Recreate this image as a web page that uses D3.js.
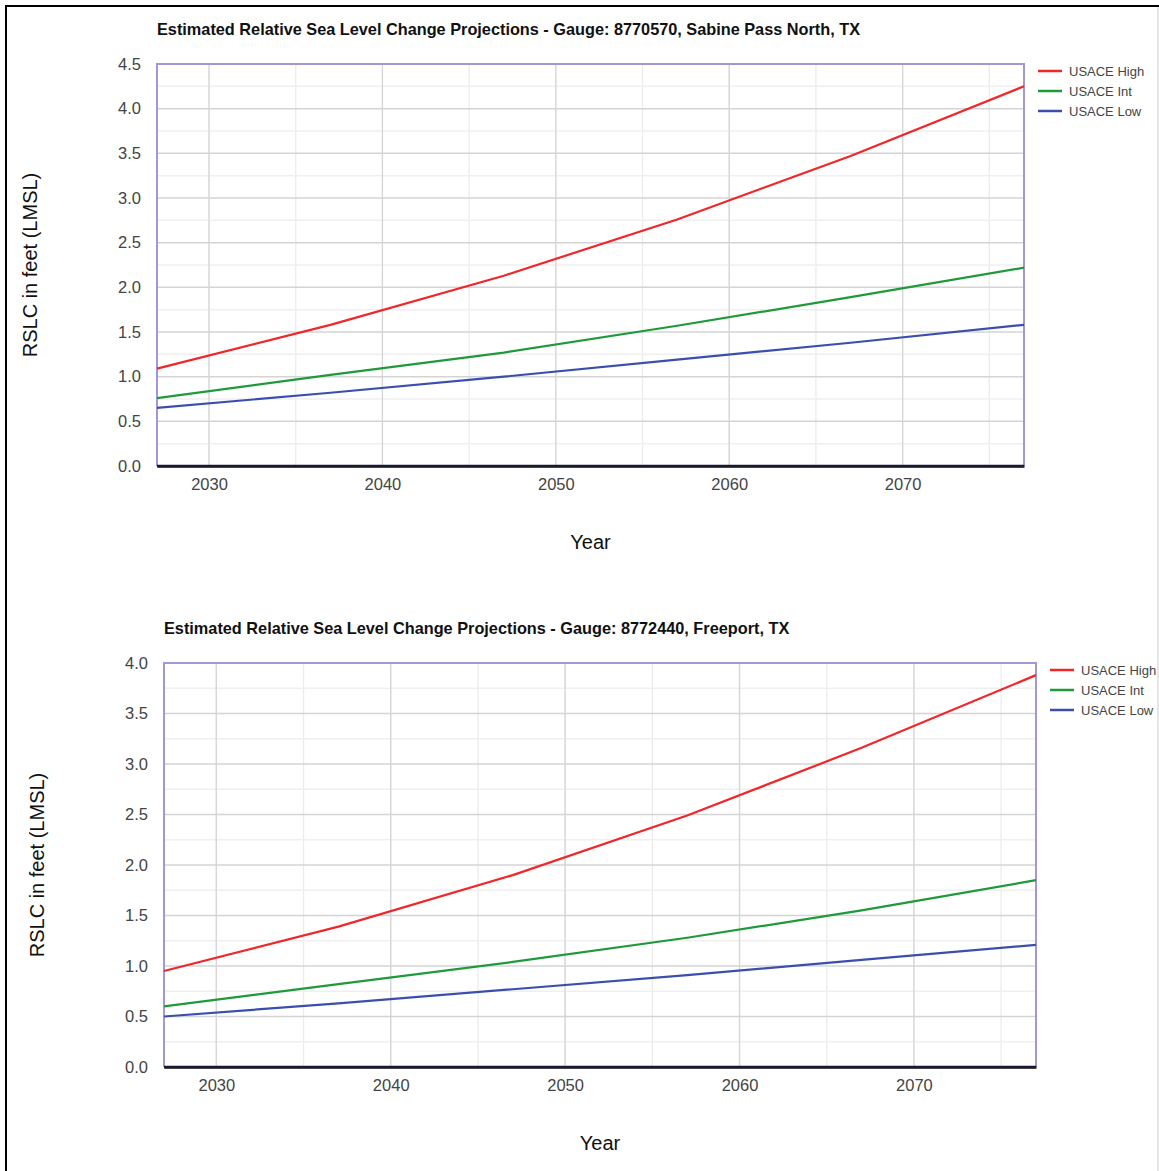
<!DOCTYPE html>
<meta charset="utf-8">
<title>RSLC projections</title>
<style>
body { margin: 0; background: #fff; font-family: Arial, "Liberation Sans", Helvetica, sans-serif; }
svg { display: block; }
.tick text { fill: #444; font-size: 16.5px; }
.title { font-weight: bold; font-size: 16.3px; fill: #111; }
.axis-title { font-size: 20px; fill: #111; }
.legend text { font-size: 13px; fill: #444; }
</style>
<body>
<script src="https://cdn.jsdelivr.net/npm/d3@7"></script>
<script>

// data
var years = [2027, 2037, 2047, 2057, 2067, 2077];
var seriesNames = ['USACE High', 'USACE Int', 'USACE Low'];
var seriesColors = ['#f0262a', '#1f9a3a', '#3b4eb0'];

var sabineHigh = [1.09, 1.58, 2.13, 2.76, 3.47, 4.25];
var sabineInt  = [0.76, 1.02, 1.27, 1.57, 1.89, 2.22];
var sabineLow  = [0.65, 0.82, 1.00, 1.19, 1.38, 1.58];

var freeportHigh = [0.95, 1.39, 1.90, 2.49, 3.16, 3.88];
var freeportInt  = [0.60, 0.82, 1.04, 1.28, 1.55, 1.85];
var freeportLow  = [0.50, 0.63, 0.77, 0.91, 1.06, 1.21];

var xTicks = [2030, 2040, 2050, 2060, 2070];
var yTicksSabine = [0, 0.5, 1, 1.5, 2, 2.5, 3, 3.5, 4, 4.5];
var yTicksFreeport = [0, 0.5, 1, 1.5, 2, 2.5, 3, 3.5, 4];

var W = 1159, H = 1171;
var svg = d3.select('body').append('svg').attr('width', W).attr('height', H);

// outer frame
svg.append('line').attr('x1', 6).attr('x2', 6).attr('y1', 5).attr('y2', H)
  .attr('stroke', '#000').attr('stroke-width', 2);
svg.append('line').attr('x1', 5).attr('x2', W).attr('y1', 6).attr('y2', 6)
  .attr('stroke', '#000').attr('stroke-width', 2);
svg.append('line').attr('x1', 1158).attr('x2', 1158).attr('y1', 7).attr('y2', H)
  .attr('stroke', '#ccc').attr('stroke-width', 1);

function drawChart(o){
  var g = svg.append('g');
  var x = d3.scaleLinear().domain([2027, 2077]).range([o.left, o.right]);
  var y = d3.scaleLinear().domain([0, o.ymax]).range([o.bottom, o.top]);

  // minor grid
  g.selectAll('line.vminor').data(d3.range(2030, 2077, 5)).join('line')
    .attr('x1', x).attr('x2', x).attr('y1', o.top).attr('y2', o.bottom)
    .attr('stroke', '#ececec').attr('stroke-width', 1.3);
  g.selectAll('line.hminor').data(d3.range(0.25, o.ymax, 0.5)).join('line')
    .attr('x1', o.left).attr('x2', o.right).attr('y1', y).attr('y2', y)
    .attr('stroke', '#efefef').attr('stroke-width', 1.5);
  // major grid
  g.selectAll('line.vmajor').data(xTicks).join('line')
    .attr('x1', x).attr('x2', x).attr('y1', o.top).attr('y2', o.bottom)
    .attr('stroke', '#d6d6d6').attr('stroke-width', 1.3);
  g.selectAll('line.hmajor').data(o.yTicks.slice(1)).join('line')
    .attr('x1', o.left).attr('x2', o.right).attr('y1', y).attr('y2', y)
    .attr('stroke', '#d4d4d4').attr('stroke-width', 1.5);

  // plot frame
  g.append('path')
    .attr('d', 'M' + o.left + ',' + o.bottom + 'V' + o.top + 'H' + o.right + 'V' + o.bottom)
    .attr('fill', 'none').attr('stroke', '#a497d6').attr('stroke-width', 2);

  // axes
  var xAxis = g.append('g').attr('transform', 'translate(0,' + o.bottom + ')')
    .call(d3.axisBottom(x).tickValues(xTicks).tickFormat(d3.format('d')).tickSize(0).tickPadding(12));
  xAxis.select('.domain').attr('stroke', '#1a1a2e').attr('stroke-width', 2.5);

  var yAxis = g.append('g').attr('transform', 'translate(' + o.left + ',0)')
    .call(d3.axisLeft(y).tickValues(o.yTicks).tickFormat(d3.format('.1f')).tickSize(0).tickPadding(16));
  yAxis.select('.domain').remove();
  g.selectAll('.tick text').attr('font-family', 'Arial, "Liberation Sans", sans-serif');

  // lines
  var line = d3.line().x(function(d, i){ return x(years[i]) }).y(function(d){ return y(d) });
  o.series.forEach(function(s, i){
    g.append('path').datum(s).attr('d', line)
      .attr('fill', 'none').attr('stroke', seriesColors[i]).attr('stroke-width', 2.2);
  });
  // redraw bottom axis line on top
  g.append('line').attr('x1', o.left).attr('x2', o.right).attr('y1', o.bottom).attr('y2', o.bottom)
    .attr('stroke', '#1a1a2e').attr('stroke-width', 2.5);

  // titles
  g.append('text').attr('class', 'title').attr('x', o.left).attr('y', o.top - 29).text(o.title);
  g.append('text').attr('class', 'axis-title').attr('text-anchor', 'middle')
    .attr('x', (o.left + o.right) / 2, 0).attr('y', o.bottom + 83).text('Year');
  g.append('text').attr('class', 'axis-title').attr('text-anchor', 'middle')
    .attr('transform', 'translate(' + o.yTitleX + ',' + (o.top + o.bottom) / 2 + ') rotate(-90)')
    .text('RSLC in feet (LMSL)');

  // legend
  var lg = g.append('g').attr('class', 'legend')
    .attr('transform', 'translate(' + (o.right + 14) + ',' + (o.top + 7) + ')');
  seriesNames.forEach(function(n, i){
    lg.append('line').attr('x1', 0).attr('x2', 24).attr('y1', i * 20).attr('y2', i * 20)
      .attr('stroke', seriesColors[i]).attr('stroke-width', 2.5);
    lg.append('text').attr('x', 31).attr('y', i * 20 + 5).text(n);
  });
}

drawChart({
  title: 'Estimated Relative Sea Level Change Projections - Gauge: 8770570, Sabine Pass North, TX',
  left: 157, right: 1024, top: 64, bottom: 466, ymax: 4.5,
  yTicks: yTicksSabine, yTitleX: 37,
  series: [sabineHigh, sabineInt, sabineLow]
});

drawChart({
  title: 'Estimated Relative Sea Level Change Projections - Gauge: 8772440, Freeport, TX',
  left: 164, right: 1036, top: 663, bottom: 1067, ymax: 4.0,
  yTicks: yTicksFreeport, yTitleX: 44,
  series: [freeportHigh, freeportInt, freeportLow]
});

</script>
</body>
